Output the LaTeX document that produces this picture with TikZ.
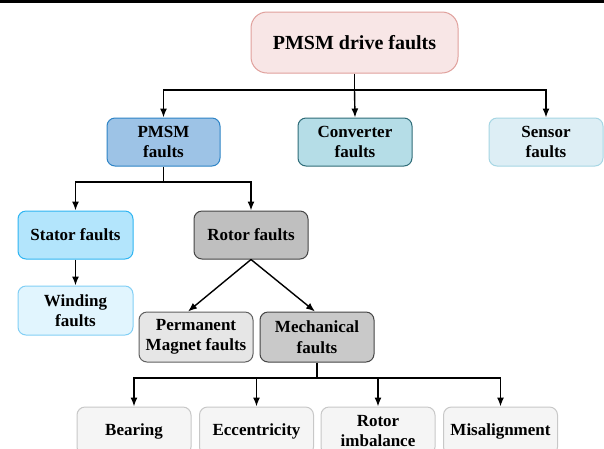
\documentclass[tikz,border=0pt]{standalone}
\usepackage{fontspec}
\setmainfont{Liberation Serif}
\usetikzlibrary{arrows.meta,positioning,calc}
\definecolor{topfill}{HTML}{F8E6E6}\definecolor{topdraw}{HTML}{E0A09C}
\definecolor{pmfill}{HTML}{9DC3E6}\definecolor{pmdraw}{HTML}{2E84C6}
\definecolor{cvfill}{HTML}{B5DDE7}\definecolor{cvdraw}{HTML}{2F6C78}
\definecolor{snfill}{HTML}{DDEEF5}\definecolor{sndraw}{HTML}{A6D6E4}
\definecolor{stfill}{HTML}{B3E5FC}\definecolor{stdraw}{HTML}{2FB5F2}
\definecolor{wdfill}{HTML}{E1F5FE}\definecolor{wddraw}{HTML}{82CFF5}
\definecolor{rtfill}{HTML}{BFBFBF}\definecolor{rtdraw}{HTML}{454545}
\definecolor{pgfill}{HTML}{E6E6E6}\definecolor{pgdraw}{HTML}{606060}
\definecolor{mcfill}{HTML}{C9C9C9}\definecolor{mcdraw}{HTML}{454545}
\definecolor{btfill}{HTML}{F5F5F5}\definecolor{btdraw}{HTML}{C8C8C8}
\tikzset{
  box/.style={rectangle, rounded corners=8pt, line width=1pt, align=center,
    font=\fontsize{17}{20.5}\selectfont\bfseries, minimum width=114pt, minimum height=48pt, inner sep=2pt},
  arr/.style={-{Latex[length=9pt,width=7pt]}, line width=1.4pt},
  ln/.style={line width=1.4pt},
}
\begin{document}
\begin{tikzpicture}[x=1pt,y=-1pt]
\clip (0,0) rectangle (604,448);
\fill[white] (0,0) rectangle (604,448);
\fill[black] (0,0) rectangle (604,3);
\node[box, rounded corners=16pt, minimum width=207pt, minimum height=61pt, fill=topfill, draw=topdraw,
  font=\fontsize{20}{24}\selectfont\bfseries] (top) at (354.5,42.5) {PMSM drive faults};
\node[box, minimum width=113pt, fill=pmfill, draw=pmdraw] (pmsm) at (163.5,142) {PMSM\\faults};
\node[box, fill=cvfill, draw=cvdraw] (conv) at (355,142) {Converter\\faults};
\node[box, fill=snfill, draw=sndraw] (sens) at (546,142) {Sensor\\faults};
\node[box, minimum width=115pt, fill=stfill, draw=stdraw] (stat) at (75.5,235) {Stator faults};
\node[box, fill=rtfill, draw=rtdraw] (rot) at (251,235) {Rotor faults};
\node[box, minimum width=115pt, minimum height=49pt, fill=wdfill, draw=wddraw] (wind) at (75.5,310.5) {Winding\\faults};
\node[box, minimum height=50pt, fill=pgfill, draw=pgdraw] (perm) at (196,337) {Permanent\\Magnet faults};
\node[box, minimum height=50pt, fill=mcfill, draw=mcdraw] (mech) at (317,337) {Mechanical\\faults};
\node[box, fill=btfill, draw=btdraw] (bear) at (134,431) {Bearing};
\node[box, fill=btfill, draw=btdraw] (ecc) at (256.5,431) {Eccentricity};
\node[box, fill=btfill, draw=btdraw] (imb) at (378,431) {Rotor\\imbalance};
\node[box, fill=btfill, draw=btdraw] (mis) at (500.5,431) {Misalignment};
% top level
\coordinate (b1) at (354.5,90);
\draw[ln] (top.south) -- (b1);
\draw[arr] (b1) -| (pmsm.north);
\draw[arr] (b1) -- (conv.north);
\draw[arr] (b1) -| (sens.north);
% pmsm
\coordinate (b2) at (163.5,182);
\draw[ln] (pmsm.south) -- (b2);
\draw[arr] (b2) -| (stat.north);
\draw[arr] (b2) -| (rot.north);
\draw[arr] (stat.south) -- (wind.north);
% rotor
\draw[arr] (rot.south) -- ([xshift=-8pt]perm.north);
\draw[arr] (rot.south) -- ([xshift=-2pt]mech.north);
% mechanical
\coordinate (b3) at (317,378);
\draw[ln] (mech.south) -- (b3);
\draw[arr] (b3) -| (bear.north);
\draw[arr] (b3) -| (ecc.north);
\draw[arr] (b3) -| (imb.north);
\draw[arr] (b3) -| (mis.north);
\end{tikzpicture}
\end{document}
